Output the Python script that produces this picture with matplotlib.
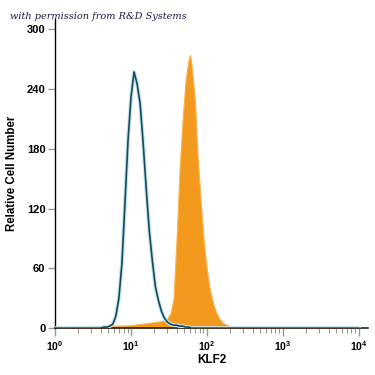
import numpy as np
import matplotlib
matplotlib.use("Agg")
import matplotlib.pyplot as plt

# log10 fluorescence bin centres and counts
iso_log = [0.00, 0.60, 0.64, 0.68, 0.72, 0.76, 0.80, 0.84, 0.88, 0.92, 0.96, 1.00, 1.04, 1.08,
           1.12, 1.16, 1.20, 1.24, 1.28, 1.32, 1.36, 1.40, 1.44, 1.48, 1.52, 1.56, 1.60,
           1.64, 1.68, 1.72, 1.76, 1.80, 4.00]
iso_cnt = [0, 0, 1, 1, 2, 4, 12, 30, 65, 125, 188, 232, 257, 245,
           225, 185, 140, 98, 68, 42, 28, 17, 10, 6, 4, 3, 3,
           2, 2, 1, 1, 0, 0]

klf_log = [0.00, 1.00, 1.10, 1.20, 1.30, 1.40, 1.44, 1.48, 1.52, 1.56, 1.60, 1.64, 1.68, 1.72,
           1.76, 1.78, 1.80, 1.84, 1.88, 1.92, 1.96, 2.00, 2.04, 2.08, 2.12, 2.16,
           2.20, 2.24, 2.30, 2.40, 2.50, 4.00]
klf_cnt = [0, 3, 4, 5, 6, 7, 8, 10, 15, 30, 90, 160, 210, 250,
           270, 274, 262, 230, 168, 125, 85, 58, 38, 25, 16, 10,
           6, 4, 2, 1, 0, 0]

y_ticks = [0, 60, 120, 180, 240, 300]
x_ticks = [1, 10, 100, 1000, 10000]
x_labels = [r"$\mathbf{10^{0}}$", r"$\mathbf{10^{1}}$", r"$\mathbf{10^{2}}$",
            r"$\mathbf{10^{3}}$", r"$\mathbf{10^{4}}$"]

plt.rcParams['font.family'] = ['Liberation Sans', 'DejaVu Sans']
plt.rcParams['mathtext.fontset'] = 'custom'
plt.rcParams['mathtext.bf'] = 'Liberation Sans:bold'
plt.rcParams['mathtext.rm'] = 'Liberation Sans'

fig = plt.figure(figsize=(3.75, 3.75), dpi=100)
ax = fig.add_axes([0.147, 0.125, 0.834, 0.824])

iso_x = 10 ** np.array(iso_log)
klf_x = 10 ** np.array(klf_log)

ax.fill_between(klf_x, klf_cnt, 0, color='#F39A1E', edgecolor='#F8B451', lw=0.8, zorder=2)
ax.plot(iso_x, iso_cnt, color='#BFE6F0', lw=2.8, zorder=3)
ax.plot(iso_x, iso_cnt, color='#1E4656', lw=1.2, zorder=4)

ax.set_xscale('log')
ax.set_xlim(1, 10 ** 4.12)
ax.set_ylim(0, 310)
ax.set_yticks(y_ticks)
ax.set_yticklabels([str(v) for v in y_ticks], fontweight='bold', fontsize=8)
ax.set_xticks(x_ticks)
ax.set_xticklabels(x_labels, fontsize=7.5)

for s in ['top', 'right']:
    ax.spines[s].set_visible(False)
ax.spines['left'].set_color('black')
ax.spines['bottom'].set_color('#222222')
ax.spines['left'].set_linewidth(1.0)
ax.spines['bottom'].set_linewidth(1.2)

ax.tick_params(axis='y', direction='out', length=5, width=1, color='#999999', pad=2)
ax.tick_params(axis='x', which='major', direction='out', length=6, width=1, color='#999999', pad=2)
ax.tick_params(axis='x', which='minor', direction='out', length=3.5, width=0.8, color='#999999')

ax.set_ylabel('Relative Cell Number', fontweight='bold', fontsize=8.3, labelpad=6)
ax.set_xlabel('KLF2', fontweight='bold', fontsize=8.5, labelpad=1)

fig.text(0.027, 0.955, 'with permission from R&D Systems', family='DejaVu Serif',
         style='italic', fontsize=7, color='#1a1a4a', va='center', ha='left')

fig.savefig('out.png', dpi=100)
